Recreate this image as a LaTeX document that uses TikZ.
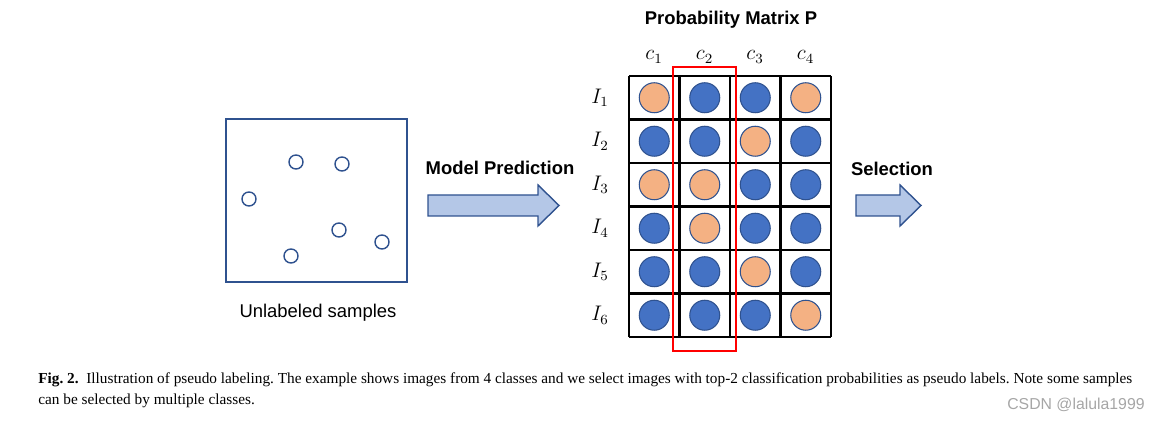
\documentclass[tikz,border=0pt]{standalone}
\usepackage{fontspec}
\setmainfont{Liberation Serif}
\setsansfont{Liberation Sans}
\usetikzlibrary{positioning}
\frenchspacing

\definecolor{dotblue}{HTML}{4472C4}
\definecolor{dotorange}{HTML}{F4B183}
\definecolor{edgeblue}{HTML}{2F528F}
\definecolor{arrowfill}{HTML}{B4C7E7}

\tikzset{
  sample/.style={circle,draw=edgeblue,thick,minimum size=0.28cm,inner sep=0pt},
  prob/.style={circle,draw=edgeblue,semithick,minimum size=0.6cm,inner sep=0pt},
  gridline/.style={black,line width=1.2pt},
  bigarrow/.style={draw=edgeblue,fill=arrowfill,thick},
  headtext/.style={font=\sffamily\bfseries\fontsize{10.5}{12}\selectfont},
  mathtext/.style={font=\fontsize{11.5}{13}\selectfont}
}

\begin{document}
\begin{tikzpicture}[x=0.02cm,y=-0.02cm]
  \useasboundingbox (0,0) rectangle (1160,421);
  % unlabeled samples
  \draw[edgeblue,thick] (226,119) rectangle (407,282);
  \foreach \n/\x/\y in {1/296/162,2/342/164,3/249/199,4/339/230,5/382/242,6/291/256} {
    \node[sample] (s\n) at (\x,\y) {};
  }
  \node[font=\sffamily\fontsize{10.5}{12}\selectfont] (unl) at (318,313) {Unlabeled samples};
  % model prediction
  \node[headtext] (pred) at (500,168) {Model Prediction};
  \draw[bigarrow] (428,195) -- (538,195) -- (538,185) -- (559,205.5) -- (538,226) -- (538,216) -- (428,216) -- cycle;
  % probability matrix
  \node[headtext] (title) at (731,20) {Probability Matrix P};
  \foreach \i in {0,...,4} {
    \draw[gridline] (629+50.5*\i,76) -- (629+50.5*\i,337);
  }
  \foreach \j in {0,...,6} {
    \draw[gridline] (629,76+43.5*\j) -- (831,76+43.5*\j);
  }
  \foreach \k in {1,...,4} {
    \node[mathtext] (c\k) at (654+50.5*\k-50.5,57) {$c_{\k}$};
  }
  \foreach \r/\cols in {1/{dotorange,dotblue,dotblue,dotorange},
                        2/{dotblue,dotblue,dotorange,dotblue},
                        3/{dotorange,dotorange,dotblue,dotblue},
                        4/{dotblue,dotorange,dotblue,dotblue},
                        5/{dotblue,dotblue,dotorange,dotblue},
                        6/{dotblue,dotblue,dotblue,dotorange}} {
    \node[mathtext] (I\r) at (600,54.25+43.5*\r) {$I_{\r}$};
    \foreach \col [count=\k] in \cols {
      \node[prob,fill=\col] (p\r\k) at (603.75+50.5*\k,54.25+43.5*\r) {};
    }
  }
  % selected column
  \draw[red,line width=1.2pt] (673,67) rectangle (736,351);
  % selection
  \node[headtext] (sel) at (892,169) {Selection};
  \draw[bigarrow] (856,195) -- (900,195) -- (900,185) -- (921,205.5) -- (900,226) -- (900,216) -- (856,216) -- cycle;
  % caption
  \node[anchor=base west,inner sep=0pt,font=\fontsize{8.7}{10}\selectfont] (cap1) at (38,384)
    {\textbf{Fig. 2.}\enspace Illustration of pseudo labeling. The example shows images from 4 classes and we select images with top-2 classification probabilities as pseudo labels. Note some samples};
  \node[anchor=base west,inner sep=0pt,font=\fontsize{8.7}{10}\selectfont] (cap2) at (38,405)
    {can be selected by multiple classes.};
  \node[anchor=base east,inner sep=0pt,gray!70,font=\sffamily\fontsize{9}{10}\selectfont] (mark) at (1145,410) {CSDN @lalula1999};
\end{tikzpicture}
\end{document}
